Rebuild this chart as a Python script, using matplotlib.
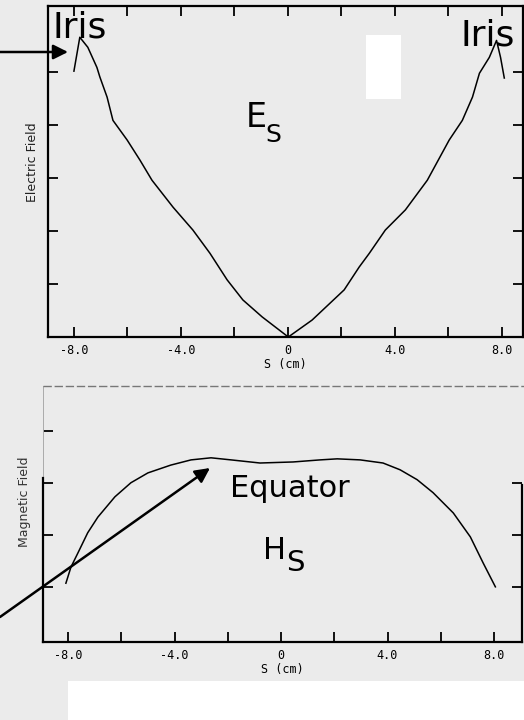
# Scanned field plots: electric field E_s and magnetic field H_s along the cavity wall
import matplotlib.pyplot as plt

W, H = 524, 720
BG = '#ebebeb'

# electric field along s (cm), arbitrary units
e_s = [-8.0, -7.78, -7.48, -7.14, -7.03, -6.76, -6.54, -6.01, -5.53, -5.08, -4.29,
       -3.55, -2.91, -2.27, -1.68, -0.96, 0.02, 0.91, 2.11, 2.67, 3.05, 3.65, 4.40,
       5.22, 6.04, 6.53, 6.91, 7.17, 7.54, 7.81, 7.96, 8.10]
e_val = [5.02, 5.66, 5.47, 5.09, 4.91, 4.53, 4.09, 3.72, 3.34, 2.96, 2.45,
         2.02, 1.58, 1.08, 0.70, 0.38, 0.0, 0.32, 0.89, 1.32, 1.58, 2.02, 2.40,
         2.96, 3.72, 4.09, 4.53, 4.98, 5.28, 5.60, 5.28, 4.89]

# magnetic field along s (cm), arbitrary units
h_s = [-8.08, -7.89, -7.63, -7.26, -6.88, -6.24, -5.64, -5.00, -4.14, -3.38, -2.63,
       -1.88, -0.79, 0.45, 1.47, 2.11, 2.97, 3.83, 4.47, 5.11, 5.71, 6.47, 7.11,
       7.59, 8.05]
h_val = [1.07, 1.38, 1.65, 2.04, 2.34, 2.73, 3.00, 3.19, 3.34, 3.44, 3.48,
         3.44, 3.38, 3.40, 3.44, 3.46, 3.44, 3.38, 3.25, 3.06, 2.81, 2.42, 1.96,
         1.46, 1.00]

major_ticks = [-8, -4, 0, 4, 8]
major_labels = ['-8.0', '-4.0', '0', '4.0', '8.0']
minor_ticks = [-6, -2, 2, 6]

mono = 'DejaVu Sans Mono'


def box(l, t, r, b):
    # pixel box (top-left origin) -> figure fraction rect
    return [l / W, 1 - b / H, (r - l) / W, (b - t) / H]


def style_x(ax):
    ax.set_xticks(major_ticks)
    ax.set_xticklabels(major_labels, family=mono, fontsize=8.5)
    ax.set_xticks(minor_ticks, minor=True)
    ax.set_xlabel('S (cm)', family=mono, fontsize=8.5, labelpad=1)


fig = plt.figure(figsize=(W / 100, H / 100), dpi=100, facecolor=BG)

# ---- top panel: electric field
ax1 = fig.add_axes(box(48, 6, 523, 337))
ax1.set_facecolor('none')
ax1.plot(e_s, e_val, color='black', lw=1.1)
ax1.set_xlim(-8.97, 8.8)
ax1.set_ylim(0, 6.25)
ax1.set_yticks([1, 2, 3, 4, 5])
ax1.set_yticklabels([])
style_x(ax1)
for sp in ax1.spines.values():
    sp.set_linewidth(1.6)
ax1.tick_params(which='both', direction='in', length=7, width=1.3,
                top=True, right=True, pad=5)

fig.text(33 / W, 1 - 162 / H, 'Electric Field', rotation=90, ha='center',
         va='center', fontsize=9, color='#222222')

# ---- bottom panel: magnetic field
ax2 = fig.add_axes(box(43, 386, 522, 642))
ax2.set_facecolor('none')
ax2.plot(h_s, h_val, color='black', lw=1.1)
ax2.set_xlim(-8.94, 9.05)
ax2.set_ylim(-0.06, 4.86)
ax2.set_yticks([1, 2, 3, 4])
ax2.set_yticklabels([])
style_x(ax2)
for sp in ax2.spines.values():
    sp.set_linewidth(1.6)
ax2.spines['top'].set_visible(False)
ax2.spines['left'].set_bounds(-0.06, 3.1)
ax2.spines['right'].set_bounds(-0.06, 2.96)
ax2.tick_params(which='both', direction='in', length=7, width=1.3,
                right=True, pad=5)
ax2.yaxis.get_major_ticks()[3].tick1line.set_color('#999999')
ax2.yaxis.get_major_ticks()[3].tick2line.set_visible(False)
# faint scan lines of the upper frame
ax2.plot([-8.94, -8.94], [3.1, 4.86], color='#aaaaaa', lw=0.7, clip_on=False)
ax2.plot([-8.94, 9.3], [4.86, 4.86], color='#777777', lw=1.0, ls=(0, (6, 2)),
         clip_on=False)

fig.text(25 / W, 1 - 547 / H, 'Magnetic Field', rotation=90, ha='center',
         va='bottom', fontsize=9, color='#333333')

# ---- annotations
fig.text(53 / W, 1 - 37 / H, 'Iris', fontsize=26, va='baseline')
fig.text(460 / W, 1 - 45 / H, 'Iris', fontsize=26, va='baseline')
fig.text(246 / W, 1 - 127 / H, 'E', fontsize=24, va='baseline')
fig.text(265 / W, 1 - 142 / H, 'S', fontsize=18, va='baseline')
fig.text(230 / W, 1 - 497 / H, 'Equator', fontsize=22, va='baseline')
fig.text(263 / W, 1 - 559 / H, 'H', fontsize=22, va='baseline')
fig.text(286 / W, 1 - 571 / H, 'S', fontsize=21, va='baseline')

arrow = dict(arrowstyle='-|>', lw=1.8, color='black', mutation_scale=22,
             shrinkA=0, shrinkB=0)
fig.add_artist(plt.matplotlib.patches.FancyArrowPatch(
    (0, 1 - 52 / H), (68 / W, 1 - 52 / H), transform=fig.transFigure, **arrow))
fig.add_artist(plt.matplotlib.patches.FancyArrowPatch(
    (0, 1 - 617 / H), (210 / W, 1 - 468 / H), transform=fig.transFigure, **arrow))

# white patches of the scan
fig.add_artist(plt.Rectangle((366 / W, 1 - 99 / H), 35 / W, 64 / H,
                             transform=fig.transFigure, color='white', lw=0))
fig.add_artist(plt.Rectangle((68 / W, 0), 1 - 68 / W, 39 / H,
                             transform=fig.transFigure, color='white', lw=0))

fig.savefig('out.png', dpi=100, facecolor=BG)
